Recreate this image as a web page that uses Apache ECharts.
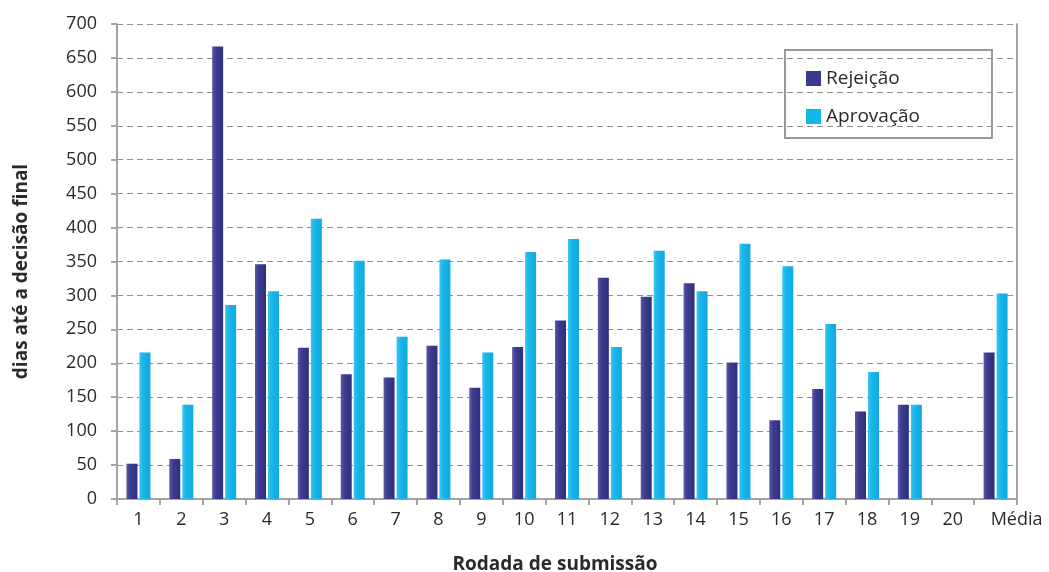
<!DOCTYPE html>
<html>
<head>
<meta charset="utf-8">
<script src="https://cdn.jsdelivr.net/npm/echarts@6/dist/echarts.min.js"></script>
<style>
  html, body { margin: 0; padding: 0; background: #fff; }
  #chart { width: 1049px; height: 572px; }
</style>
</head>
<body>
<div id="chart"></div>
<script>
// Submission rounds (last column is the overall average)
const rounds = ['1','2','3','4','5','6','7','8','9','10','11','12','13','14','15','16','17','18','19','20','Média'];

// Days until final decision, per round
const rejeicao  = [52, 59, 667, 346, 223, 184, 179, 226, 164, 224, 263, 326, 298, 318, 201, 116, 162, 129, 139, null, 216];
const aprovacao = [216, 139, 286, 306, 413, 351, 239, 353, 216, 364, 383, 224, 366, 306, 376, 343, 258, 187, 139, null, 303];

const yTicks = { min: 0, max: 700, interval: 50 };

const fontFamily = '"Open Sans", "Noto Sans", sans-serif';
const axisGray = '#a3a3a3';
const textColor = '#2a2a2a';

const darkBlue = new echarts.graphic.LinearGradient(0, 0, 1, 0, [
  { offset: 0, color: '#5a5aa6' },
  { offset: 0.35, color: '#3c3c8e' },
  { offset: 1, color: '#2f2f7e' }
]);
const cyan = new echarts.graphic.LinearGradient(0, 0, 1, 0, [
  { offset: 0, color: '#3cc6f0' },
  { offset: 0.35, color: '#17b6ea' },
  { offset: 1, color: '#10a9dd' }
]);

const chart = echarts.init(document.getElementById('chart'), null, { renderer: 'canvas' });

chart.setOption({
  animation: false,
  textStyle: { fontFamily: fontFamily },
  grid: { left: 117, right: 32, top: 24, bottom: 73, containLabel: false, outerBoundsMode: 'none' },
  legend: {
    orient: 'vertical',
    left: 785,
    top: 50,
    padding: [19, 72, 12, 21],
    itemGap: 19,
    itemWidth: 15,
    itemHeight: 15,
    borderColor: '#9a9a9a',
    borderWidth: 2,
    borderRadius: 0,
    icon: 'rect',
    textStyle: { fontSize: 19, color: textColor, fontFamily: fontFamily },
    data: [
      { name: 'Rejeição', itemStyle: { color: '#3a3a8c' } },
      { name: 'Aprovação', itemStyle: { color: '#17b6ea' } }
    ]
  },
  xAxis: {
    type: 'category',
    data: rounds.map(r => r === 'Média'
      ? { value: r, textStyle: { padding: [0, 0, 0, 42] } }
      : r),
    boundaryGap: true,
    name: 'Rodada de submissão',
    nameLocation: 'middle',
    nameGap: 56,
    nameTextStyle: { fontSize: 19, fontWeight: 'bold', color: textColor, padding: [0, 24, 0, 0] },
    axisLine: { lineStyle: { color: axisGray, width: 2 } },
    axisTick: { show: true, alignWithLabel: false, length: 6, lineStyle: { color: axisGray, width: 2 } },
    axisLabel: { fontSize: 18, color: textColor, margin: 12, interval: 0 },
    splitLine: { show: false }
  },
  yAxis: [
    {
      type: 'value',
      min: yTicks.min,
      max: yTicks.max,
      interval: yTicks.interval,
      name: 'dias até a decisão final',
      nameLocation: 'middle',
      nameGap: 86,
      nameTextStyle: { fontSize: 19, fontWeight: 'bold', color: textColor, padding: [0, 0, 0, -20] },
      axisLine: { show: true, lineStyle: { color: axisGray, width: 2 } },
      axisTick: { show: true, length: 6, lineStyle: { color: axisGray, width: 2 } },
      axisLabel: { fontSize: 18, color: textColor, margin: 20 },
      splitLine: { show: true, lineStyle: { color: '#8f8f8f', type: [6, 4], width: 1 } }
    },
    {
      type: 'value',
      position: 'right',
      min: yTicks.min,
      max: yTicks.max,
      interval: yTicks.interval,
      axisLine: { show: true, lineStyle: { color: axisGray, width: 2 } },
      axisTick: { show: false },
      axisLabel: { show: false },
      splitLine: { show: false }
    }
  ],
  series: [
    {
      name: 'Rejeição',
      type: 'bar',
      data: rejeicao,
      barWidth: 11,
      barGap: '18%',
      itemStyle: { color: darkBlue }
    },
    {
      name: 'Aprovação',
      type: 'bar',
      data: aprovacao,
      barWidth: 11,
      barGap: '18%',
      itemStyle: { color: cyan }
    }
  ]
});
</script>
</body>
</html>
